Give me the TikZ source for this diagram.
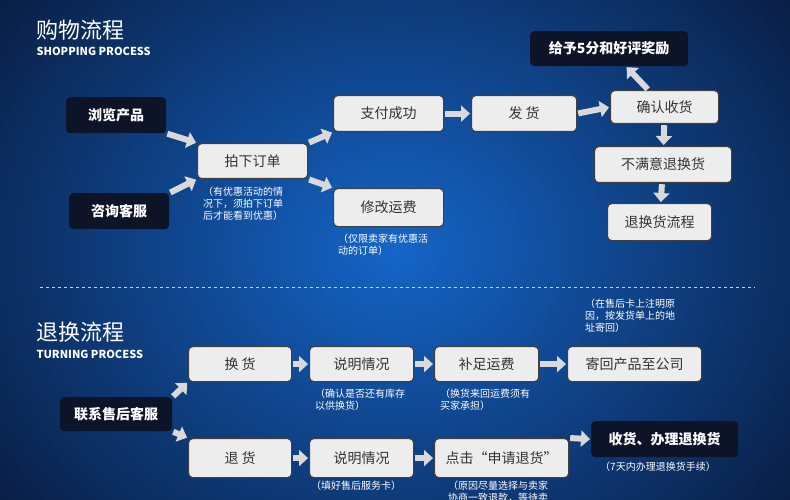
\documentclass[tikz,border=0pt]{standalone}
\usepackage{fontspec}
\setmainfont{Noto Sans CJK SC}
\usetikzlibrary{arrows.meta}
\definecolor{bgout}{HTML}{081838}
\definecolor{bgin}{HTML}{1565C8}
\definecolor{boxfill}{HTML}{EDEDED}
\definecolor{darkbox}{HTML}{0E1428}
\tikzset{
 lbox/.style={draw=black!75,line width=1.2pt,fill=boxfill,rounded corners=4pt,font=\fontsize{14}{14}\selectfont,text=black!80,anchor=north west,inner sep=0pt,align=center},
 dbox/.style={fill=darkbox,rounded corners=4pt,font=\fontsize{14}{14}\selectfont\bfseries,text=white,anchor=north west,inner sep=0pt,align=center},
 note/.style={font=\fontsize{10}{12}\selectfont,text=white,anchor=north west,align=left,inner sep=0pt},
 fat/.style={draw=black!15,line width=6pt,-{Triangle[length=9pt,width=16pt]},shorten <=1pt,shorten >=1pt},
}
\begin{document}
\begin{tikzpicture}[x=1pt,y=-1pt]
\useasboundingbox (0,0) rectangle (790,500);
\clip (0,0) rectangle (790,500);
\shade[inner color=bgin,outer color=bgout] (-150,-200) rectangle (940,700);
% titles
\node[anchor=west,text=white,font=\fontsize{22}{22}\selectfont] (t1) at (33,30) {购物流程};
\node[anchor=west,text=white,font=\fontsize{11}{11}\selectfont\bfseries] (t1e) at (33,51) {SHOPPING PROCESS};
\node[anchor=west,text=white,font=\fontsize{22}{22}\selectfont] (t2) at (33,332) {退换流程};
\node[anchor=west,text=white,font=\fontsize{11}{11}\selectfont\bfseries] (t2e) at (33,354) {TURNING PROCESS};
\draw[white!80!blue,dashed,line width=0.6pt] (40,287) -- (755,287);
% shopping
\node[dbox,minimum width=100,minimum height=36] (a) at (66,97) {浏览产品};
\node[dbox,minimum width=100,minimum height=36] (b) at (69,193) {咨询客服};
\node[lbox,minimum width=110,minimum height=35] (c) at (197,143) {拍下订单};
\node[lbox,minimum width=110,minimum height=36] (d) at (333,95) {支付成功};
\node[lbox,minimum width=110,minimum height=38] (e) at (333,188) {修改运费};
\node[lbox,minimum width=105,minimum height=36] (f) at (471,95) {发\ 货};
\node[lbox,minimum width=108,minimum height=33] (g) at (610,90) {确认收货};
\node[dbox,minimum width=158,minimum height=35] (h) at (530,31) {给予5分和好评奖励};
\node[lbox,minimum width=137,minimum height=36] (i) at (594,146) {不满意退换货};
\node[lbox,minimum width=104,minimum height=37] (j) at (607,203) {退换货流程};
\node[note] (n1) at (203,187) {（有优惠活动的情\\况下，须拍下订单\\后才能看到优惠）};
\node[note] (n2) at (338,234) {（仅限卖家有优惠活\\动的订单）};
\draw[fat] (a.south east) -- (c.north west);
\draw[fat] (b.north east) -- (c.south west);
\draw[fat] (c.north east) -- (d.south west);
\draw[fat] (c.south east) -- (e.north west);
\draw[fat] (d) -- (f);
\draw[fat] (f.east) -- (g.west);
\draw[fat] (g) -- (h);
\draw[fat] (g) -- (i);
\draw[fat] (i) -- (j);
% return
\node[dbox,minimum width=112,minimum height=34] (k) at (60,397) {联系售后客服};
\node[lbox,minimum width=103,minimum height=35] (l) at (188,346) {换\ 货};
\node[lbox,minimum width=104,minimum height=35] (m) at (309,346) {说明情况};
\node[lbox,minimum width=104,minimum height=35] (o) at (434,346) {补足运费};
\node[lbox,minimum width=134,minimum height=35] (p) at (567,346) {寄回产品至公司};
\node[lbox,minimum width=103,minimum height=39] (q) at (188,438) {退\ 货};
\node[lbox,minimum width=104,minimum height=39] (r) at (309,438) {说明情况};
\node[lbox,minimum width=134,minimum height=39] (s) at (434,438) {点击“申请退货”};
\node[dbox,minimum width=147,minimum height=36] (u) at (591,421) {收货、办理退换货};
\node[note] (n3) at (315,389) {（确认是否还有库存\\以供换货）};
\node[note] (n4) at (440,389) {（换货来回运费须有\\买家承担）};
\node[note] (n5) at (585,299) {（在售后卡上注明原\\因，按发货单上的地\\址寄回）};
\node[note] (n6) at (311,481) {（填好售后服务卡）};
\node[note] (n7) at (600,462) {（7天内办理退换货手续）};
\node[note] (n8) at (448,481) {（原因尽量选择与卖家\\协商一致退款，等待卖};
\draw[fat] (k.north east) -- (l.south west);
\draw[fat] (k.south east) -- (q.north west);
\draw[fat] (l) -- (m);
\draw[fat] (m) -- (o);
\draw[fat] (o) -- (p);
\draw[fat] (q) -- (r);
\draw[fat] (r) -- (s);
\draw[fat] (s.north east) -- (u.west);
\end{tikzpicture}
\end{document}
